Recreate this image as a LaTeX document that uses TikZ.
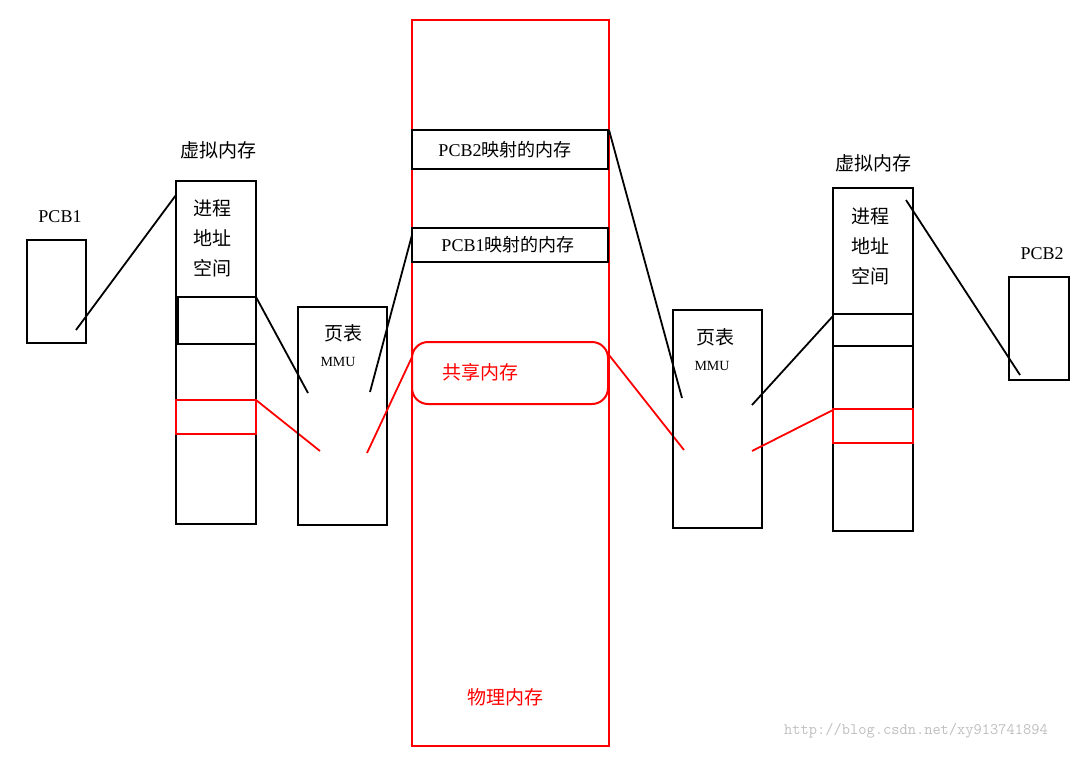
\documentclass[tikz,border=0pt]{standalone}
\usepackage{fontspec}
\setmainfont{Liberation Serif}
\newfontfamily\cjk{Noto Sans CJK SC}
\begin{document}
\begin{tikzpicture}[x=1pt,y=-1pt,
  bx/.style={draw=black,line width=2pt},
  rb/.style={draw=red,line width=2pt},
  ln/.style={draw=black,line width=1.8pt},
  rl/.style={draw=red,line width=1.8pt},
  lab/.style={font=\cjk\fontsize{19}{19}\selectfont,inner sep=0pt},
  ser/.style={font=\fontsize{18}{18}\selectfont,inner sep=0pt}]
\useasboundingbox[fill=white] (0,0) rectangle (1075,761);
% left
\node[ser] (pcb1l) at (60,217) {PCB1};
\draw[bx] (27,240) rectangle (86,343);
\node[lab] (v1) at (218,150) {虚拟内存};
\draw[bx] (176,181) rectangle (256,524);
\draw[bx] (176,181) rectangle (256,297);
\node[lab,align=center] (p1) at (212,238) {进程\\[11pt]地址\\[11pt]空间};
\draw[bx] (178,297) rectangle (256,344);
\draw[rb] (176,400) rectangle (256,434);
\draw[ln] (76,330) -- (176,195);
\draw[ln] (256,297) -- (308,393);
\draw[rl] (256,400) -- (320,451);
\draw[bx] (298,307) rectangle (387,525);
\node[lab] (t1) at (343,333) {页表};
\node[ser,font=\fontsize{14}{14}\selectfont] (m1) at (338,362) {MMU};
\draw[ln] (370,392) -- (412,235);
\draw[rl] (367,453) -- (412,357);
% physical
\draw[rb] (412,20) rectangle (609,746);
\draw[bx] (412,130) rectangle (608,169);
\node[ser] (pm2) at (505,150) {PCB2\cjk 映射的内存};
\draw[bx] (412,228) rectangle (608,262);
\node[ser] (pm1) at (508,245) {PCB1\cjk 映射的内存};
\draw[rb,rounded corners=16pt] (412,342) rectangle (608,404);
\node[lab,text=red] (sh) at (480,372) {共享内存};
\node[lab,text=red] (ph) at (505,697) {物理内存};
% right
\draw[ln] (609,130) -- (682,398);
\draw[rl] (609,355) -- (684,450);
\draw[bx] (673,310) rectangle (762,528);
\node[lab] (t2) at (715,337) {页表};
\node[ser,font=\fontsize{14}{14}\selectfont] (m2) at (712,366) {MMU};
\draw[ln] (752,405) -- (833,316);
\draw[rl] (752,451) -- (833,410);
\node[lab] (v2) at (873,163) {虚拟内存};
\draw[bx] (833,188) rectangle (913,531);
\draw[bx] (833,188) rectangle (913,314);
\node[lab,align=center] (p2) at (870,246) {进程\\[11pt]地址\\[11pt]空间};
\draw[bx] (833,314) rectangle (913,346);
\draw[rb] (833,409) rectangle (913,443);
\draw[ln] (906,200) -- (1020,375);
\node[ser] (pcb2l) at (1042,254) {PCB2};
\draw[bx] (1009,277) rectangle (1069,380);
\node[font=\ttfamily\fontsize{16}{16}\selectfont,text=gray!50,inner sep=0pt] (wm) at (916,731) {http://blog.csdn.net/xy913741894};
\end{tikzpicture}
\end{document}
